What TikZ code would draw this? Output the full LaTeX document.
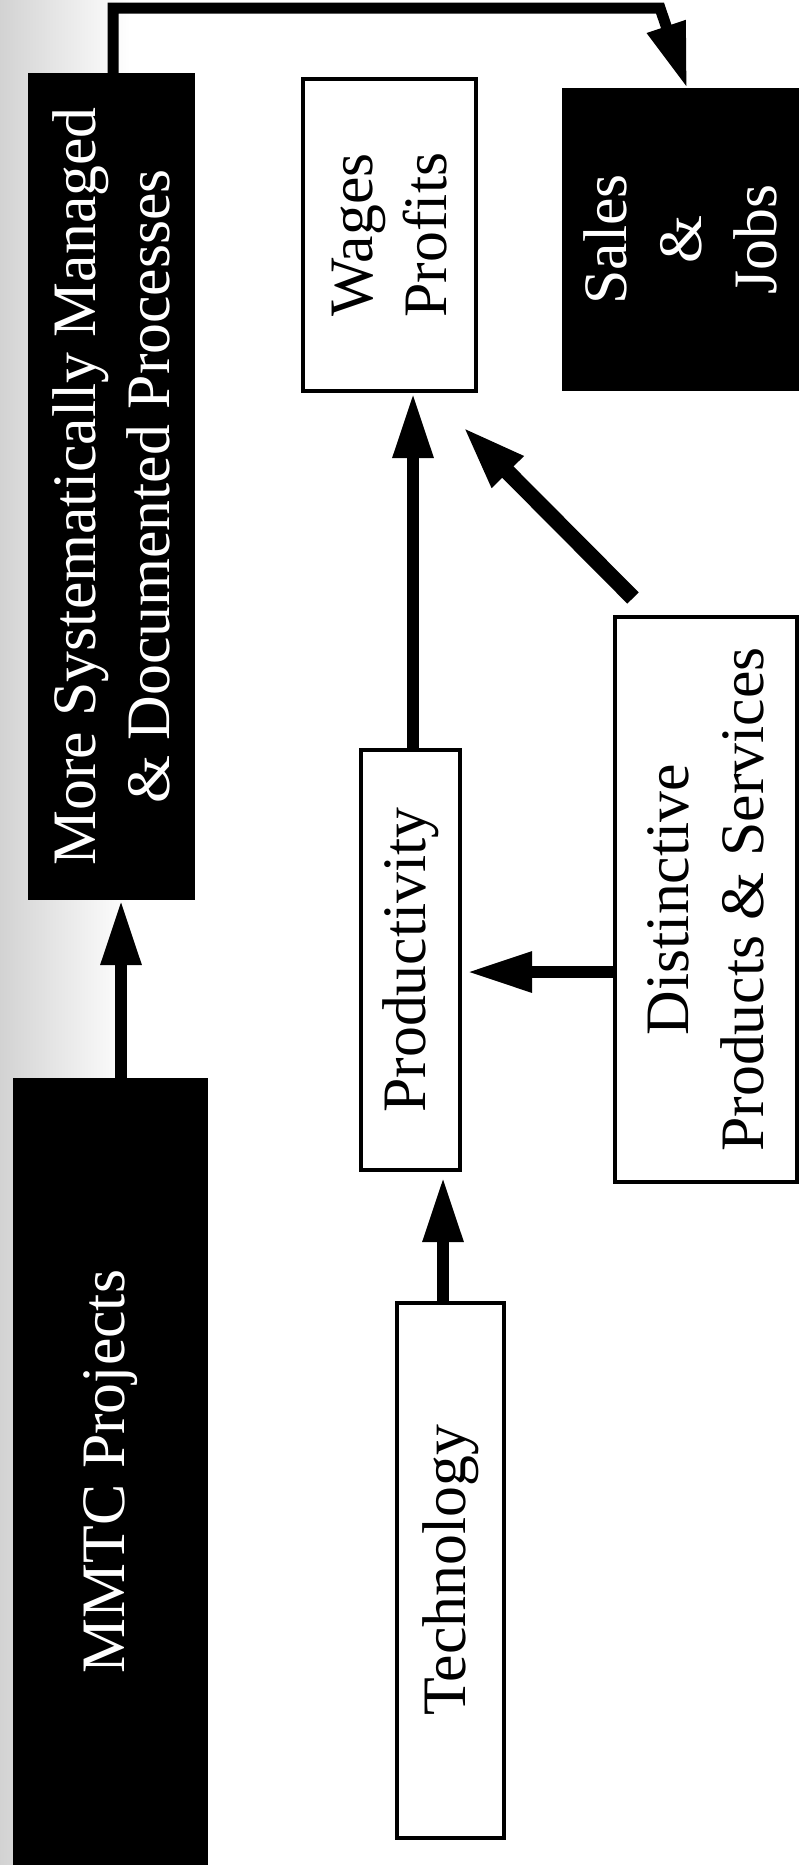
\documentclass[tikz,border=0pt]{standalone}
\usepackage{fontspec}
\newfontfamily\boxfont{LiberationSerif}[Extension=.ttf,UprightFont=*-Regular]
\usetikzlibrary{arrows.meta,calc}

\begin{document}
\begin{tikzpicture}
  [x=1bp,y=-1bp,
   every node/.style={rotate=90,inner sep=0pt,outer sep=0pt,align=center,
     font=\boxfont\fontsize{62}{75}\selectfont},
   darkbox/.style={fill=black,text=white},
   lightbox/.style={draw=black,line width=3.5bp,fill=white},
   flow/.style={line width=12bp,-{Triangle[length=65bp,width=38bp]}}]
  \useasboundingbox (0,0) rectangle (799,1865);
  \fill[white] (0,0) rectangle (799,1865);
  \fill[left color=gray!35,right color=white] (0,0) rectangle (130,1865);

  \node[darkbox,minimum width=787bp,minimum height=195bp] (mmtc) at (110.5,1471.5) {MMTC Projects};
  \node[darkbox,minimum width=827bp,minimum height=167bp] (more) at (111.5,486.5)
    {More Systematically Managed\\\& Documented Processes};
  \node[lightbox,minimum width=312bp,minimum height=173bp] (wages) at (389.5,235) {Wages\\Profits};
  \node[darkbox,minimum width=303bp,minimum height=237bp] (sales) at (680.5,239.5) {Sales\\\&\\Jobs};
  \node[lightbox,minimum width=420bp,minimum height=99bp] (prod) at (410.5,960) {Productivity};
  \node[lightbox,minimum width=565bp,minimum height=182bp] (dist) at (706,899.5)
    {Distinctive\\Products \& Services};
  \node[lightbox,minimum width=535bp,minimum height=107bp] (tech) at (450.5,1570.5) {Technology};

  \coordinate (m1) at ($(mmtc.east)+(10.5,0)$);
  \coordinate (t1) at ($(tech.east)+(-7.5,0)$);
  \coordinate (d1) at ($(dist.north)+(0,72.5)$);
  \coordinate (p1) at ($(prod.east)+(2.5,0)$);
  \coordinate (m2) at ($(more.east)+(1.5,0)$);
  \coordinate (bend) at (660,8);

  \draw[flow] (m1) -- (m1 |- more.west);
  \draw[flow,shorten >=7bp] (t1) -- (t1 |- prod.west);
  \draw[flow,shorten >=7bp] (d1) -- (d1 -| prod.south);
  \draw[flow,shorten >=2bp] (p1) -- (p1 |- wages.west);
  \draw[flow,line width=16bp,-{Triangle[length=65bp,width=40bp]}]
    ($(dist.north east)+(18,-19)$) -- ($(wages.south west)+(-14,35)$);
  \draw[flow,line width=11bp] (m2) -- (m2 |- bend) -- (bend) -- ($(sales.east)+(6.5,0)$);

\end{tikzpicture}
\end{document}
